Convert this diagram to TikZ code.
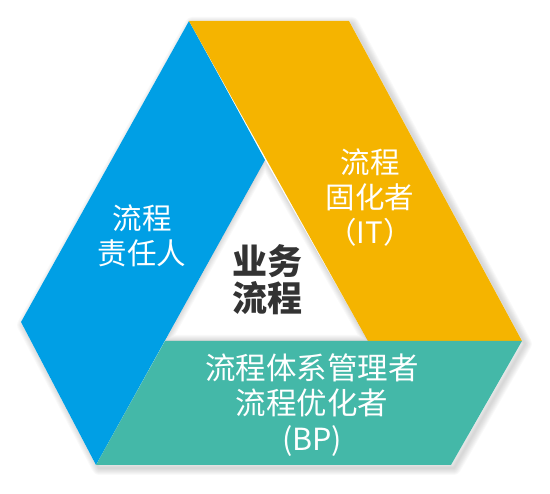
\documentclass[tikz,border=0pt]{standalone}
\usepackage{fontspec}
\setmainfont{Noto Sans CJK SC}
\usepackage{xcolor}
\usetikzlibrary{positioning,calc}

\definecolor{roleblue}{HTML}{009FE5}
\definecolor{roleyellow}{HTML}{F5B400}
\definecolor{roleteal}{HTML}{44B8A8}
\definecolor{coretext}{HTML}{333333}

\begin{document}
\begin{tikzpicture}[
    x=1pt, y=-1pt,
    band/.style={line join=round},
    role/.style={text=white, align=center, font=\fontsize{29.5}{35}\selectfont, inner sep=0pt},
    core/.style={text=coretext, align=center, font=\fontsize{35}{37}\selectfont\bfseries, inner sep=0pt},
    shade/.style={black, opacity=0.025, line join=round}
]
\useasboundingbox (0,0) rectangle (550,494);

% corners of the outer frame
\coordinate (top1) at (189,21);
\coordinate (top2) at (349,21);
\coordinate (right) at (522,341);
\coordinate (bot2) at (451,465);
\coordinate (bot1) at (96,465);
\coordinate (left) at (21,322);
% corners of the inner triangle
\coordinate (inTop) at (265,160);
\coordinate (inLeft) at (165,341);
\coordinate (inRight) at (368,341);

% soft shadow
\foreach \w in {2,4,...,14}
    \draw[shade, line width=\w pt] ($(top1)+(3,3)$) -- ($(top2)+(3,3)$) -- ($(right)+(3,3)$)
        -- ($(bot2)+(3,3)$) -- ($(bot1)+(3,3)$) -- ($(left)+(3,3)$) -- cycle;
\fill[white] (top1) -- (top2) -- (right) -- (bot2) -- (bot1) -- (left) -- cycle;

\fill[band, roleblue] (top1) -- (left) -- (bot1) -- (inTop) -- cycle;
\fill[band, roleyellow] (top1) -- (top2) -- (right) -- (inRight) -- cycle;
\fill[band, roleteal] (inLeft) -- (right) -- (bot2) -- (bot1) -- cycle;

% shadow inside the white triangle
\begin{scope}
    \clip (inTop) -- (inRight) -- (inLeft) -- cycle;
    \foreach \w in {2,4,...,12}
        \draw[shade, line width=\w pt] (inTop) -- (inRight) -- (inLeft) -- cycle;
\end{scope}

\node[role] (owner) at (142,236) {流程\\责任人};
\node[role] (fixer) at (370,198) {流程\\固化者\\（IT）};
\node[role, font=\fontsize{30.5}{35.5}\selectfont] (manager) at (312,405) {流程体系管理者\\流程优化者\\(BP)};
\node[core] (process) at (267,280) {业务\\流程};

\end{tikzpicture}
\end{document}
